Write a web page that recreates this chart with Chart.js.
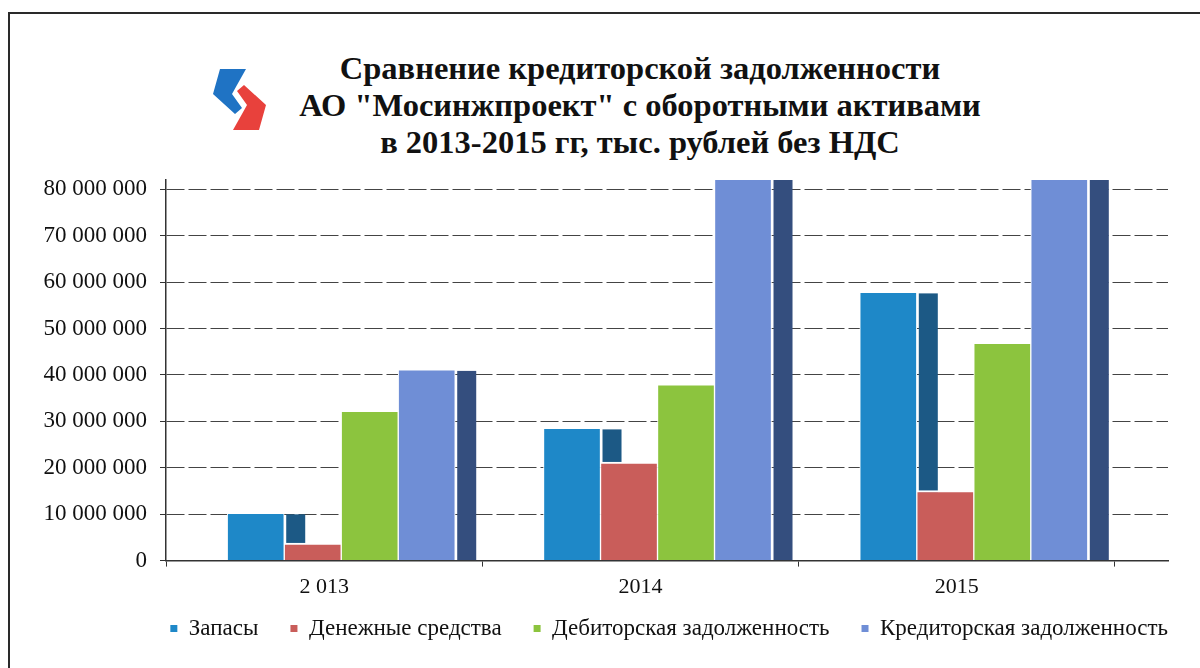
<!DOCTYPE html>
<html>
<head>
<meta charset="utf-8">
<script src="https://cdn.jsdelivr.net/npm/chart.js@4/dist/chart.umd.min.js"></script>
<style>
  body { margin: 0; background: #fff; }
  #wrap { position: relative; width: 1200px; height: 668px; overflow: hidden; background: #fff; }
  .frame { position: absolute; left: 8px; top: 12px; width: 1300px; height: 800px; border: 2px solid #2a2a2a; }
  .logo { position: absolute; left: 200px; top: 60px; }
  .title { position: absolute; left: 0; top: 50px; width: 1280px; text-align: center;
           font: bold 32.5px/37px 'Liberation Serif', serif; color: #111; }
  canvas { position: absolute; left: 0; top: 0; }
</style>
</head>
<body>
<div id="wrap">
  <div class="frame"></div>
  <svg class="logo" width="80" height="80" viewBox="0 0 80 80">
    <polygon points="20,9 46,9 37,25 32,34 42,48 35,54 13,34" fill="#1f73c4"/>
    <polygon points="59,70 33,70 42,54 47,45 37,31 44,25 66,45" fill="#e8413c"/>
  </svg>
  <div class="title">Сравнение кредиторской задолженности<br>АО "Мосинжпроект" с оборотными активами<br>в 2013-2015 гг, тыс. рублей без НДС</div>
  <canvas id="chart" width="1200" height="668"></canvas>
</div>
<script>
let years = ['2 013', '2014', '2015'];
let yTicks = [0, 10000000, 20000000, 30000000, 40000000, 50000000, 60000000, 70000000, 80000000];

let zapasy   = [10400000, 28700000, 58000000];   // Запасы
let dengi    = [3800000, 21200000, 15100000];    // Денежные средства
let debitor  = [32400000, 38100000, 47000000];   // Дебиторская задолженность
let kreditor = [41300000, 95000000, 100000000];  // Кредиторская задолженность (2014-2015 выше шкалы)

let ctx = document.getElementById('chart').getContext('2d');
Chart.defaults.font.family = "'Liberation Serif', serif";
Chart.defaults.color = '#111';

function toXY(arr) {
    return arr.map((v, i) => ({ x: i, y: v }));
}

function fmt(v) {   // 80 000 000
    return String(v).replace(/\B(?=(\d{3})+(?!\d))/g, ' ');
}

// тёмная боковая грань столбцов, рисуется позади всех столбцов
let sideShade = {
    id: 'sideShade',
    beforeDatasetsDraw(chart) {
        let c = chart.ctx;
        let a = chart.chartArea;
        c.save();
        c.beginPath();
        c.rect(a.left, a.top, a.right - a.left, a.bottom - a.top);
        c.clip();
        chart.data.datasets.forEach((ds, i) => {
            chart.getDatasetMeta(i).data.forEach(bar => {
                let p = bar.getProps(['x', 'y', 'base', 'width'], true);
                c.fillStyle = ds.sideColor;
                c.fillRect(p.x + p.width / 2 + 2, p.y + 2, 19, p.base - p.y - 2);
            });
        });
        c.restore();
    }
};

// легенда ближе к подписям оси (верхний отступ легенды = горизонтальному)
let legendUp = {
    id: 'legendUp',
    afterLayout(chart) {
        if (chart.legend) {
            chart.legend.top -= 22;
            chart.legend.bottom -= 22;
        }
    }
};

let border = { top: 2, left: 1, right: 1, bottom: 0 };

let myChart = new Chart(ctx, {
    type: 'bar',
    data: {
        datasets: [
            { label: 'Запасы', data: toXY(zapasy), backgroundColor: '#1e88c8', sideColor: '#1c5985' },
            { label: 'Денежные средства', data: toXY(dengi), backgroundColor: '#c95d5a', sideColor: '#8a3a38' },
            { label: 'Дебиторская задолженность', data: toXY(debitor), backgroundColor: '#8cc43e', sideColor: '#5a8a25' },
            { label: 'Кредиторская задолженность', data: toXY(kreditor), backgroundColor: '#6f8ed6', sideColor: '#344e7e' }
        ].map(d => Object.assign(d, {
            xAxisID: 'xb', yAxisID: 'y',
            borderColor: '#ffffff', borderWidth: border, borderSkipped: false,
            barThickness: 57
        }))
    },
    options: {
        responsive: false,
        animation: false,
        devicePixelRatio: 1,
        layout: { padding: { top: 180, left: 0, right: 0, bottom: -4 } },
        scales: {
            x: {
                type: 'linear', position: 'bottom', min: -0.5, max: 2.668, offset: false,
                afterBuildTicks: s => { s.ticks = [-0.5, 0, 0.5, 1, 1.5, 2, 2.5].map(v => ({ value: v })); },
                ticks: {
                    autoSkip: false, maxRotation: 0, padding: 7,
                    font: { size: 22 }, color: '#111',
                    callback: v => Number.isInteger(v) ? years[v] : ''
                },
                grid: {
                    offset: false, drawOnChartArea: false, tickLength: 6,
                    tickColor: c => (c.tick && Number.isInteger(c.tick.value)) ? 'rgba(0,0,0,0)' : '#333'
                },
                border: { color: '#333', width: 1.5 }
            },
            xb: {
                type: 'linear', axis: 'x', display: false, offset: false, min: -0.554, max: 2.614,
                grid: { offset: false },
                afterBuildTicks: s => { s.ticks = [0, 1, 2].map(v => ({ value: v })); }
            },
            y: {
                min: 0, max: 82000000,
                afterBuildTicks: s => { s.ticks = yTicks.map(v => ({ value: v })); },
                afterFit: s => { s.width = 166; },
                ticks: { padding: 13, font: { size: 23 }, color: '#111', callback: v => fmt(v) },
                grid: { color: '#444', lineWidth: 1, tickLength: 6, tickColor: '#333' },
                border: { color: '#333', width: 1.5, dash: [18, 4] }
            },
            yr: {
                type: 'linear', axis: 'y', position: 'right',
                grid: { display: false }, ticks: { display: false }, border: { display: false },
                afterFit: s => { s.width = 32; }
            }
        },
        plugins: {
            tooltip: { enabled: false },
            legend: {
                position: 'bottom', align: 'end',
                labels: {
                    boxWidth: 7, boxHeight: 7, padding: 32,
                    font: { size: 23 }, color: '#111',
                    generateLabels: chart => Chart.defaults.plugins.legend.labels.generateLabels(chart)
                        .map(l => Object.assign(l, { lineWidth: 0, strokeStyle: 'rgba(0,0,0,0)' }))
                }
            }
        }
    },
    plugins: [sideShade, legendUp]
});
</script>
</body>
</html>
